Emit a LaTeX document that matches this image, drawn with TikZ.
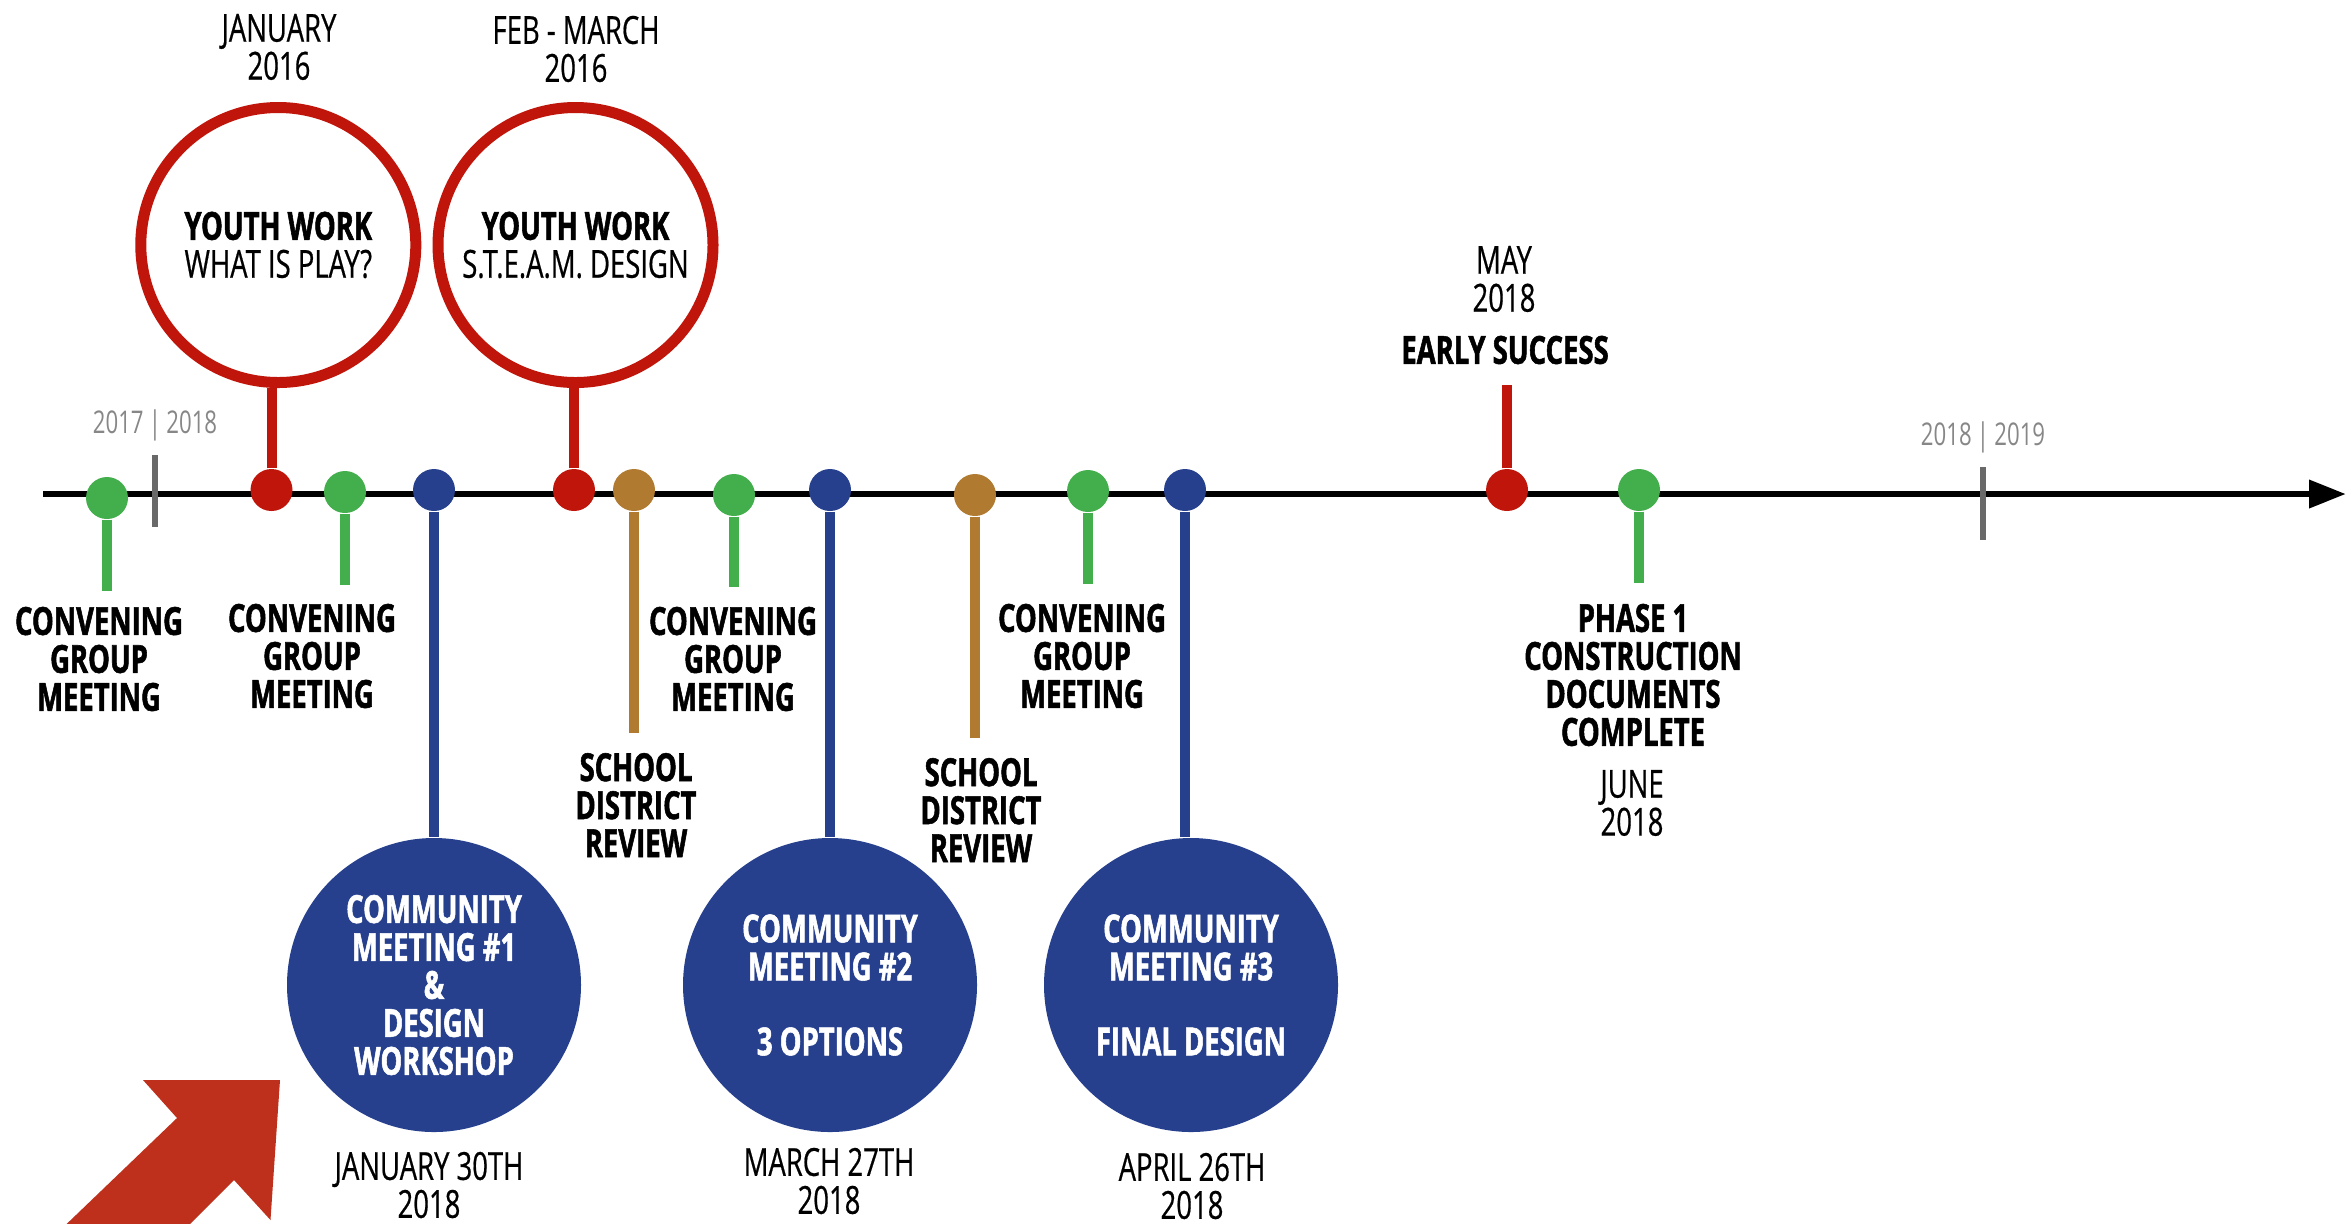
\documentclass[tikz,border=0pt]{standalone}
\usepackage{fontspec}
\setmainfont{Open Sans}[FakeStretch=0.71,FakeBold=0.5,
  BoldFeatures={FakeBold=1.4}]
\newfontfamily\yearfont{Open Sans}[FakeStretch=0.71]
\usetikzlibrary{arrows.meta}

\definecolor{evred}{RGB}{192,21,11}
\definecolor{evgreen}{RGB}{66,175,76}
\definecolor{evblue}{RGB}{38,64,142}
\definecolor{evgold}{RGB}{176,123,48}
\definecolor{tickgray}{RGB}{105,105,105}
\definecolor{yeargray}{RGB}{135,135,135}
\definecolor{arrowred}{RGB}{190,48,28}

\newcommand{\evfont}{\fontsize{11}{10.8}\selectfont}

\tikzset{
  evdot/.style={circle,inner sep=0pt,minimum size=0.42cm},
  evstem/.style={line width=0.1cm},
  ring/.style={circle,draw=evred,line width=0.11cm,fill=white,
    minimum size=2.75cm,inner sep=0pt,align=center,font=\evfont},
  disc/.style={circle,fill=evblue,minimum size=2.94cm,inner sep=0pt,
    align=center,text=white,font=\bfseries\evfont},
  evlabel/.style={align=center,font=\bfseries\evfont},
  datelabel/.style={align=center,font=\evfont},
  yearlabel/.style={text=yeargray,font=\yearfont\fontsize{8.9}{9}\selectfont},
  yeartick/.style={draw=tickgray,line width=0.057cm}
}

\begin{document}
\begin{tikzpicture}[x=1cm,y=-1cm]
    \fill[white] (0,0) rectangle (23.51,12.23);
    \useasboundingbox (0,0) rectangle (23.51,12.23);

    % big arrow, bottom left
    \begin{scope}
        \clip (0,0) rectangle (23.51,12.23);
        \fill[arrowred]
              (2.80,10.80)--(2.705,12.20)--(2.34,11.80)
            --(0.84,13.30)--(0.27,12.62)--(1.77,11.18)
            --(1.43,10.80)--cycle;
    \end{scope}

    % time line
    \coordinate (tlstart) at (0.43,4.94);
    \coordinate (tlend) at (23.46,4.94);
    \draw[line width=0.067cm,-{Triangle[length=0.37cm,width=0.27cm]}]
        (tlstart)--(tlend);
    \draw[yeartick] (1.55,4.55)--(1.55,5.27);
    \draw[yeartick] (19.83,4.67)--(19.83,5.40);
    \node[yearlabel] (yr1) at (1.55,4.25) {2017\,|\,2018};
    \node[yearlabel] (yr2) at (19.83,4.37) {2018\,|\,2019};

    % dots on the line
    \node[evdot,fill=evgreen] (cg1) at (1.07,4.98) {};
    \node[evdot,fill=evred]   (yw1) at (2.715,4.90) {};
    \node[evdot,fill=evgreen] (cg2) at (3.45,4.92) {};
    \node[evdot,fill=evblue]  (cm1) at (4.34,4.90) {};
    \node[evdot,fill=evred]   (yw2) at (5.74,4.90) {};
    \node[evdot,fill=evgold]  (sd1) at (6.34,4.90) {};
    \node[evdot,fill=evgreen] (cg3) at (7.34,4.95) {};
    \node[evdot,fill=evblue]  (cm2) at (8.30,4.90) {};
    \node[evdot,fill=evgold]  (sd2) at (9.75,4.95) {};
    \node[evdot,fill=evgreen] (cg4) at (10.88,4.91) {};
    \node[evdot,fill=evblue]  (cm3) at (11.85,4.90) {};
    \node[evdot,fill=evred]   (es)  at (15.07,4.90) {};
    \node[evdot,fill=evgreen] (ph)  at (16.39,4.90) {};

    % youth work
    \node[ring] (ywc1) at (2.783,2.45) {\textbf{YOUTH WORK}\\WHAT IS PLAY?};
    \node[ring] (ywc2) at (5.755,2.45) {\textbf{YOUTH WORK}\\S.T.E.A.M. DESIGN};
    \draw[evstem,evred] (yw1)--(yw1 |- ywc1.south);
    \draw[evstem,evred] (yw2)--(yw2 |- ywc2.south);
    \node[datelabel] (ywd1) at (2.79,0.47) {JANUARY\\2016};
    \node[datelabel] (ywd2) at (5.76,0.49) {FEB - MARCH\\2016};

    % convening group
    \coordinate (cg1e) at (1.07,5.91);
    \coordinate (cg2e) at (3.45,5.85);
    \coordinate (cg3e) at (7.34,5.87);
    \coordinate (cg4e) at (10.88,5.84);
    \draw[evstem,evgreen] (cg1)--(cg1e);
    \draw[evstem,evgreen] (cg2)--(cg2e);
    \draw[evstem,evgreen] (cg3)--(cg3e);
    \draw[evstem,evgreen] (cg4)--(cg4e);
    \node[evlabel] (cgl1) at (0.99,6.59) {CONVENING\\GROUP\\MEETING};
    \node[evlabel] (cgl2) at (3.12,6.56) {CONVENING\\GROUP\\MEETING};
    \node[evlabel] (cgl3) at (7.33,6.59) {CONVENING\\GROUP\\MEETING};
    \node[evlabel] (cgl4) at (10.82,6.56) {CONVENING\\GROUP\\MEETING};

    % school district
    \coordinate (sd1e) at (6.34,7.33);
    \coordinate (sd2e) at (9.75,7.38);
    \draw[evstem,evgold] (sd1)--(sd1e);
    \draw[evstem,evgold] (sd2)--(sd2e);
    \node[evlabel] (sdl1) at (6.36,8.05) {SCHOOL\\DISTRICT\\REVIEW};
    \node[evlabel] (sdl2) at (9.81,8.10) {SCHOOL\\DISTRICT\\REVIEW};

    % community meetings
    \node[disc] (cmc1) at (4.34,9.85) {COMMUNITY\\MEETING \#1\\\&\\DESIGN\\WORKSHOP};
    \node[disc] (cmc2) at (8.30,9.85) {COMMUNITY\\MEETING \#2\\[0.37cm]3 OPTIONS};
    \node[disc] (cmc3) at (11.91,9.85) {COMMUNITY\\MEETING \#3\\[0.37cm]FINAL DESIGN};
    \draw[evstem,evblue] (cm1)--(cm1 |- cmc1.north);
    \draw[evstem,evblue] (cm2)--(cm2 |- cmc2.north);
    \draw[evstem,evblue] (cm3)--(cm3 |- cmc3.north);
    \node[datelabel] (cmd1) at (4.29,11.85) {JANUARY 30TH\\2018};
    \node[datelabel] (cmd2) at (8.29,11.81) {MARCH 27TH\\2018};
    \node[datelabel] (cmd3) at (11.92,11.86) {APRIL 26TH\\2018};

    % early success
    \coordinate (ese) at (15.07,3.85);
    \draw[evstem,evred] (es)--(ese);
    \node[evlabel] (esl) at (15.05,3.50) {EARLY SUCCESS};
    \node[datelabel] (esd) at (15.04,2.79) {MAY\\2018};

    % phase 1
    \coordinate (phe) at (16.39,5.83);
    \draw[evstem,evgreen] (ph)--(phe);
    \node[evlabel] (phl) at (16.33,6.75) {PHASE 1\\CONSTRUCTION\\DOCUMENTS\\COMPLETE};
    \node[datelabel] (phd) at (16.32,8.03) {JUNE\\2018};
\end{tikzpicture}
\end{document}
